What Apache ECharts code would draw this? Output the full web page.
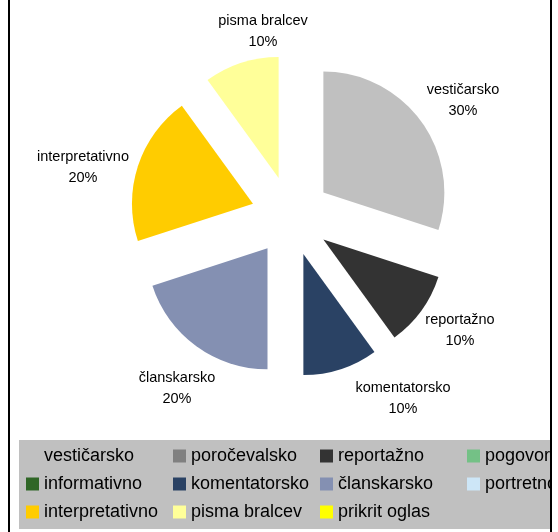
<!DOCTYPE html>
<html>
<head>
<meta charset="utf-8">
<script src="https://cdn.jsdelivr.net/npm/echarts@6/dist/echarts.min.js"></script>
<style>
  html, body { margin: 0; padding: 0; background: #fff; }
  #wrap { position: relative; width: 558px; height: 532px; overflow: hidden; background: #fff; }
  #chart { position: absolute; left: 0; top: 0; width: 552px; height: 532px; }
  #frame { position: absolute; left: 8px; top: 0; width: 540px; height: 532px;
           border-left: 2px solid #000; border-right: 2px solid #000; pointer-events: none; }
</style>
</head>
<body>
<div id="wrap">
  <div id="chart"></div>
  <div id="frame"></div>
</div>
<script>
// ---- data ----
const categories = ['vestičarsko', 'poročevalsko', 'reportažno', 'pogovorno', 'informativno',
  'komentatorsko', 'članskarsko', 'portretno', 'interpretativno', 'pisma bralcev', 'prikrit oglas'];
const shares = [30, 0, 10, 0, 0, 10, 20, 0, 20, 10, 0];

// ---- styles / layout ----
const colors = ['#C0C0C0', '#808080', '#333333', '#74C186', '#2F6626',
  '#2A4264', '#8490B2', '#CDE6F7', '#FFCC00', '#FFFF99', '#FFFF00'];
// label block centres (Excel-style manual label placement)
const labelPos = {
  'vestičarsko': [463, 100],
  'reportažno': [460, 330],
  'komentatorsko': [403, 398],
  'članskarsko': [177, 388],
  'interpretativno': [83, 167],
  'pisma bralcev': [263, 31]
};
const FONT = '"Liberation Sans", Arial, sans-serif';
const PIE_CENTER = [291, 216];
const PIE_RADIUS = 121;

const chart = echarts.init(document.getElementById('chart'), null, { renderer: 'canvas' });

// exploded slices
const sliceData = categories.map((name, i) => ({
  name: name,
  value: shares[i],
  selected: true,
  itemStyle: { color: colors[i] }
}));

// same values, invisible, used only to carry the data labels
const labelData = categories.map((name, i) => ({
  name: name,
  value: shares[i],
  label: { show: shares[i] > 0 }
}));

chart.setOption({
  animation: false,
  legend: {
    data: categories,
    orient: 'horizontal',
    left: 19,
    top: 440,
    width: 600,
    padding: [2, 0, 3, 7],
    itemGap: 0,
    itemWidth: 13,
    itemHeight: 13,
    icon: 'rect',
    selectedMode: false,
    backgroundColor: '#C0C0C0',
    textStyle: {
      fontFamily: FONT,
      fontSize: 18,
      color: '#000',
      width: 129,
      lineHeight: 28,
      overflow: 'truncate',
      ellipsis: ''
    }
  },
  series: [{
    type: 'pie',
    center: PIE_CENTER,
    radius: PIE_RADIUS,
    startAngle: 90,
    clockwise: true,
    selectedMode: 'multiple',
    selectedOffset: 40,
    emphasis: { disabled: true },
    itemStyle: { borderWidth: 0 },
    label: { show: false },
    labelLine: { show: false },
    data: sliceData
  }, {
    type: 'pie',
    center: PIE_CENTER,
    radius: PIE_RADIUS,
    startAngle: 90,
    clockwise: true,
    silent: true,
    selectedMode: false,
    avoidLabelOverlap: false,
    emphasis: { disabled: true },
    itemStyle: { color: 'rgba(0,0,0,0)', borderWidth: 0 },
    label: {
      position: 'outside',
      fontFamily: FONT,
      fontSize: 14.5,
      lineHeight: 21,
      color: '#000',
      opacity: 1,
      align: 'center',
      formatter: p => p.name + '\n' + Math.round(p.percent) + '%'
    },
    labelLine: { show: false },
    labelLayout: function (params) {
      const pos = labelPos[categories[params.dataIndex]];
      if (!pos) return {};
      return { x: pos[0], y: pos[1], align: 'center', verticalAlign: 'middle' };
    },
    data: labelData
  }]
});
</script>
</body>
</html>
